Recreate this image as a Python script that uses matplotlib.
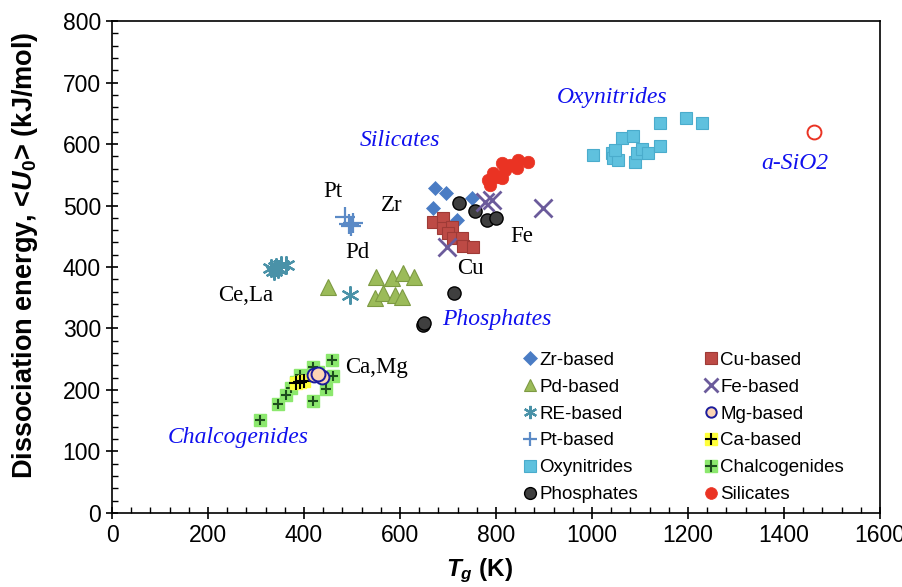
import matplotlib
matplotlib.use("Agg")
import matplotlib.pyplot as plt
from matplotlib.lines import Line2D
from matplotlib.ticker import MultipleLocator

# --- data (Tg in K, <U0> in kJ/mol) ---
zr_tg = [673, 696, 669, 750, 719]
zr_u = [528, 520, 496, 512, 476]

cu_tg = [669, 690, 690, 708, 700, 710, 729, 731, 752]
cu_u = [473, 480, 463, 465, 455, 447, 447, 434, 433]

phos_tg = [723, 756, 781, 800, 712, 648, 650]
phos_u = [504, 491, 476, 480, 358, 306, 309]

fe_tg = [698, 777, 792, 898]
fe_u = [433, 506, 509, 496]

pd_tg = [450, 550, 583, 606, 629, 548, 565, 590, 604]
pd_u = [367, 384, 382, 390, 384, 350, 358, 354, 351]

re_tg = [331, 338, 342, 352, 363, 345, 496]
re_u = [398, 393, 400, 403, 403, 397, 354]

pt_tg = [485, 494, 503, 498]
pt_u = [481, 470, 472, 466]

oxy_tg = [1002, 1042, 1044, 1054, 1048, 1062, 1086, 1090, 1094, 1104, 1117, 1142, 1142, 1196, 1229]
oxy_u = [582, 585, 577, 574, 590, 610, 613, 571, 585, 592, 586, 597, 634, 642, 634]

chal_tg = [309, 345, 362, 372, 383, 392, 419, 419, 445, 461, 459, 430]
chal_u = [151, 177, 192, 203, 213, 225, 238, 182, 201, 223, 249, 230]

ca_tg = [384, 399, 392]
ca_u = [211, 215, 213]

mg_tg = [421, 438, 430]
mg_u = [224, 221, 226]

sil_tg = [783, 788, 794, 802, 813, 813, 819, 829, 844, 846, 867]
sil_u = [541, 533, 553, 546, 569, 545, 558, 566, 561, 574, 571]

sio2_tg = [1462]
sio2_u = [620]

# text labels (position in data units)
group_labels = [("Pt", 460, 522), ("Zr", 583, 500), ("Pd", 512, 424),
                ("Ce,La", 279, 353), ("Cu", 746, 398), ("Fe", 854, 450),
                ("Ca,Mg", 552, 236)]
class_labels = [("Silicates", 600, 605), ("Oxynitrides", 1042, 675),
                ("a-SiO2", 1423, 569), ("Phosphates", 802, 314),
                ("Chalcogenides", 263, 122)]

# --- styles ---
st = {
    "Zr-based": dict(marker="D", ms=7, mfc="#4a7cc4", mec="#4a7cc4", mew=0.5),
    "Cu-based": dict(marker="s", ms=9, mfc="#bd4a45", mec="#9e3a36", mew=0.8),
    "Phosphates": dict(marker="o", ms=9.5, mfc="#3f3f3f", mec="black", mew=1.0),
    "Fe-based": dict(marker="x", ms=13, mfc="none", mec="#6b5b9b", mew=2.0),
    "Pd-based": dict(marker="^", ms=12, mfc="#9bbb59", mec="#7d9a42", mew=0.8),
    "RE-based": dict(marker=(6, 2, 0), ms=13, mfc="none", mec="#4a92a8", mew=1.6),
    "Pt-based": dict(marker="+", ms=15, mfc="none", mec="#5b8ac6", mew=1.6),
    "Oxynitrides": dict(marker="s", ms=9, mfc="#5fc1de", mec="#4aaccc", mew=0.8),
    "Silicates": dict(marker="o", ms=9, mfc="#ea3323", mec="#ea3323", mew=0.5),
}

plt.rcParams["mathtext.fontset"] = "custom"
plt.rcParams["mathtext.it"] = "Liberation Sans:italic:bold"
plt.rcParams["mathtext.rm"] = "Liberation Sans:bold"

fig = plt.figure(figsize=(9.02, 5.87), dpi=100)
ax = fig.add_axes([0.1242, 0.1261, 0.8514, 0.8381])

def pts(x, y, key, z):
    ax.plot(x, y, linestyle="none", zorder=z, **st[key])

pts(zr_tg, zr_u, "Zr-based", 3)
pts(cu_tg, cu_u, "Cu-based", 4)
pts(phos_tg, phos_u, "Phosphates", 5)
pts(fe_tg, fe_u, "Fe-based", 6)
pts(pd_tg, pd_u, "Pd-based", 3)
pts(re_tg, re_u, "RE-based", 3)
pts(pt_tg, pt_u, "Pt-based", 3)
pts(oxy_tg, oxy_u, "Oxynitrides", 3)
pts(sil_tg, sil_u, "Silicates", 3)

# chalcogenides: green square with dark plus
ax.plot(chal_tg, chal_u, ls="none", marker="s", ms=8.5, mfc="#8ce86e", mec="#8ce86e", zorder=3)
ax.plot(chal_tg, chal_u, ls="none", marker="+", ms=7, mec="#1d4d1d", mew=1.5, zorder=3.1)
# Ca-based: yellow square with black plus
ax.plot(ca_tg, ca_u, ls="none", marker="s", ms=8.5, mfc="#ffff3a", mec="#ffff3a", zorder=4)
ax.plot(ca_tg, ca_u, ls="none", marker="+", ms=10, mec="black", mew=1.5, zorder=4.1)
# Mg-based
ax.plot(mg_tg, mg_u, ls="none", marker="o", ms=10, mfc="#fcd5b4", mec="#1c1c9c", mew=1.4, zorder=5)
# a-SiO2 open circle
ax.plot(sio2_tg, sio2_u, ls="none", marker="o", ms=10, mfc="white", mec="#ea3323", mew=1.4, zorder=5)

serif = "Liberation Serif"
for txt, x, y in group_labels:
    ax.text(x, y, txt, fontsize=16.5, family=serif, ha="center", va="center", zorder=7)
for txt, x, y in class_labels:
    ax.text(x, y, txt, fontsize=17, family=serif, style="italic", color="#1010ee",
            ha="center", va="center", zorder=7)

ax.set_xlim(0, 1600)
ax.set_ylim(0, 800)
ax.xaxis.set_major_locator(MultipleLocator(200))
ax.xaxis.set_minor_locator(MultipleLocator(40))
ax.yaxis.set_major_locator(MultipleLocator(100))
ax.yaxis.set_minor_locator(MultipleLocator(20))
ax.tick_params(which="major", direction="inout", length=9, width=1.2, labelsize=16.5)
ax.tick_params(which="minor", direction="in", length=4, width=1.0)
for lab in ax.get_xticklabels() + ax.get_yticklabels():
    lab.set_family("Liberation Sans")
for s in ax.spines.values():
    s.set_linewidth(1.2)

ax.set_xlabel(r"$T_g$ (K)", fontsize=17.5, fontweight="bold", family="Liberation Sans")
ax.xaxis.set_label_coords(0.479, -0.088)
ax.set_ylabel(r"Dissociation energy, <$U_0$> (kJ/mol)", fontsize=19.5, fontweight="bold",
              family="Liberation Sans")
ax.yaxis.set_label_coords(-0.094, 0.524)

def h(key):
    d = dict(st[key])
    d["ms"] = min(d["ms"], 8.5) if d["marker"] not in ("x", "+", (6, 2, 0)) else 9.5
    return Line2D([], [], ls="none", **d)

ca_h = (Line2D([], [], ls="none", marker="s", ms=8.5, mfc="#ffff3a", mec="#ffff3a"),
        Line2D([], [], ls="none", marker="+", ms=8.5, mec="black", mew=1.5))
chal_h = (Line2D([], [], ls="none", marker="s", ms=8.5, mfc="#8ce86e", mec="#8ce86e"),
          Line2D([], [], ls="none", marker="+", ms=8.5, mec="#1d4d1d", mew=1.5))
mg_h = Line2D([], [], ls="none", marker="o", ms=7.5, mfc="#fcd5b4", mec="#1c1c9c", mew=1.4)

handles = [h("Zr-based"), h("Pd-based"), h("RE-based"), h("Pt-based"), h("Oxynitrides"),
           h("Phosphates"), h("Cu-based"), h("Fe-based"), mg_h, ca_h, chal_h, h("Silicates")]
labels = ["Zr-based", "Pd-based", "RE-based", "Pt-based", "Oxynitrides", "Phosphates",
          "Cu-based", "Fe-based", "Mg-based", "Ca-based", "Chalcogenides", "Silicates"]
ax.legend(handles, labels, ncol=2, loc="upper left", bbox_to_anchor=(0.527, 0.343),
          frameon=False, handlelength=0.6, handletextpad=0.2,
          columnspacing=3.6, labelspacing=0.52, borderaxespad=0,
          prop={"family": "Liberation Sans", "size": 13.5})

fig.savefig("out.png", dpi=100)
